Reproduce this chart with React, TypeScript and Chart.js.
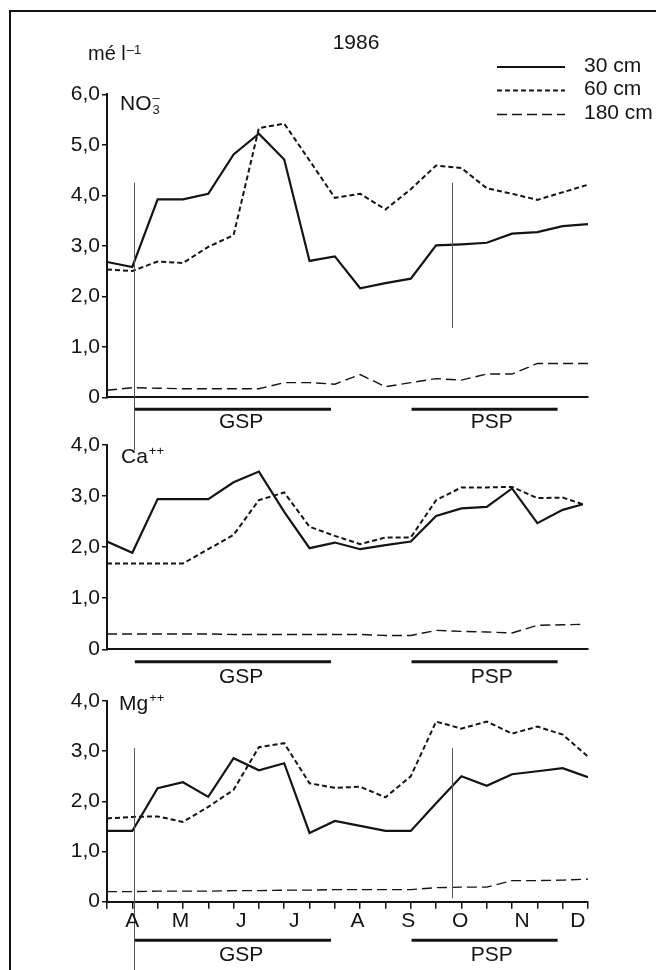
import React, { useEffect, useRef } from 'react';
import { Chart, registerables } from 'chart.js';

Chart.register(...registerables);

// ---------- data ----------
const sampleX = [0, 1, 2, 3, 4, 5, 6, 7, 8, 9, 10, 11, 12, 13, 14, 15, 16, 17, 18, 19];
const caX = [0, 1, 2, 3, 4, 5, 6, 7, 8, 9, 10, 11, 12, 13, 14, 15, 16, 17, 18, 18.8];

const no3_30 = [2.68, 2.58, 3.92, 3.92, 4.03, 4.81, 5.22, 4.71, 2.70, 2.79, 2.16, 2.26, 2.35, 3.01, 3.03, 3.06, 3.24, 3.27, 3.39, 3.43];
const no3_60 = [2.53, 2.50, 2.69, 2.66, 2.98, 3.21, 5.33, 5.42, 4.69, 3.95, 4.03, 3.72, 4.12, 4.59, 4.54, 4.14, 4.03, 3.91, 4.06, 4.21];
const no3_180 = [0.14, 0.19, 0.18, 0.17, 0.17, 0.17, 0.17, 0.29, 0.29, 0.26, 0.45, 0.21, 0.29, 0.37, 0.34, 0.46, 0.46, 0.67, 0.67, 0.67];

const ca_30 = [2.11, 1.89, 2.94, 2.94, 2.94, 3.27, 3.48, 2.69, 1.98, 2.09, 1.96, 2.04, 2.11, 2.61, 2.76, 2.79, 3.15, 2.47, 2.73, 2.84];
const ca_60 = [1.68, 1.68, 1.68, 1.68, 1.96, 2.24, 2.92, 3.07, 2.40, 2.22, 2.06, 2.19, 2.19, 2.92, 3.17, 3.17, 3.18, 2.96, 2.97, 2.84];
const ca_180 = [0.30, 0.30, 0.30, 0.30, 0.30, 0.29, 0.29, 0.29, 0.29, 0.29, 0.29, 0.27, 0.27, 0.37, 0.35, 0.34, 0.32, 0.47, 0.48, 0.49];

const mg_30 = [1.41, 1.41, 2.26, 2.38, 2.09, 2.86, 2.62, 2.76, 1.37, 1.61, 1.51, 1.41, 1.41, 1.96, 2.50, 2.31, 2.54, 2.60, 2.66, 2.48];
const mg_60 = [1.66, 1.69, 1.70, 1.59, 1.89, 2.23, 3.08, 3.16, 2.36, 2.27, 2.29, 2.08, 2.50, 3.59, 3.45, 3.59, 3.35, 3.49, 3.33, 2.89];
const mg_180 = [0.20, 0.20, 0.21, 0.21, 0.21, 0.22, 0.22, 0.23, 0.23, 0.24, 0.24, 0.24, 0.24, 0.28, 0.29, 0.29, 0.42, 0.42, 0.43, 0.45];

const seriesLabels = ['30 cm', '60 cm', '180 cm'];
const monthLabels = ['A', 'M', 'J', 'J', 'A', 'S', 'O', 'N', 'D'];
const monthPos = [1.0, 2.9, 5.3, 7.4, 9.9, 11.9, 13.95, 16.4, 18.6];
const periodNames = ['GSP', 'PSP'];
const periodStart = [1.1, 12.03];
const periodEnd = [8.85, 17.8];
const periodLabelPos = [5.3, 15.2];
const markerX = [1.08, 13.64];
const yearTitle = '1986';

// ---------- styling ----------
const W = 656;
const H = 970;
const INK = '#141414';
const FONT = '"Liberation Sans", Arial, Helvetica, sans-serif';
const styles = [
  { borderWidth: 2.2, borderDash: [] as number[] },
  { borderWidth: 2, borderDash: [5, 3] },
  { borderWidth: 1.4, borderDash: [10, 5] },
];

type Species = { base: string; sub?: string; sup?: string; x: number; y: number };
type Panel = {
  x: number[];
  series: number[][];
  yMax: number;
  top: number;
  bottom: number;
  xTicks: boolean;
  barOffset: number;
  labelOffset: number;
  vlines: { x: number; y0: number; y1: number }[];
  species: Species;
  months: boolean;
  header: boolean;
};

const panels: Panel[] = [
  {
    x: sampleX,
    series: [no3_30, no3_60, no3_180],
    yMax: 6,
    top: 94.3,
    bottom: 397.3,
    xTicks: false,
    barOffset: 12,
    labelOffset: 25,
    vlines: [
      { x: markerX[0], y0: 4.25, y1: -1.05 },
      { x: markerX[1], y0: 4.25, y1: 1.37 },
    ],
    species: { base: 'NO', sub: '3', sup: '\u2013', x: 120, y: 110 },
    months: false,
    header: true,
  },
  {
    x: caX,
    series: [ca_30, ca_60, ca_180],
    yMax: 4,
    top: 445,
    bottom: 649.3,
    xTicks: false,
    barOffset: 12.5,
    labelOffset: 28,
    vlines: [],
    species: { base: 'Ca', sup: '++', x: 121, y: 463 },
    months: false,
    header: false,
  },
  {
    x: sampleX,
    series: [mg_30, mg_60, mg_180],
    yMax: 4,
    top: 701,
    bottom: 901.7,
    xTicks: true,
    barOffset: 38.5,
    labelOffset: 53.5,
    vlines: [
      { x: markerX[0], y0: 3.06, y1: -1.4 },
      { x: markerX[1], y0: 3.06, y1: 0.07 },
    ],
    species: { base: 'Mg', sup: '++', x: 119, y: 710 },
    months: true,
    header: false,
  },
];

function makeDecor(p: Panel) {
  return {
    id: 'decor',
    afterDraw(chart: any) {
      const ctx: CanvasRenderingContext2D = chart.ctx;
      const xs = chart.scales.x;
      const ys = chart.scales.y;
      const area = chart.chartArea;
      ctx.save();

      // thin vertical marker lines
      ctx.strokeStyle = '#555';
      ctx.lineWidth = 1;
      ctx.setLineDash([]);
      for (const v of p.vlines) {
        const px = Math.round(xs.getPixelForValue(v.x)) + 0.5;
        ctx.beginPath();
        ctx.moveTo(px, ys.getPixelForValue(v.y0));
        ctx.lineTo(px, ys.getPixelForValue(v.y1));
        ctx.stroke();
      }

      // GSP / PSP bars
      ctx.strokeStyle = INK;
      ctx.lineWidth = 3;
      for (let i = 0; i < periodNames.length; i++) {
        const y = area.bottom + p.barOffset;
        ctx.beginPath();
        ctx.moveTo(xs.getPixelForValue(periodStart[i]), y);
        ctx.lineTo(xs.getPixelForValue(periodEnd[i]), y);
        ctx.stroke();
      }
      ctx.fillStyle = INK;
      ctx.textAlign = 'center';
      ctx.textBaseline = 'middle';
      ctx.font = `21px ${FONT}`;
      for (let i = 0; i < periodNames.length; i++) {
        ctx.fillText(periodNames[i], xs.getPixelForValue(periodLabelPos[i]), area.bottom + p.labelOffset);
      }

      // month labels
      if (p.months) {
        for (let i = 0; i < monthLabels.length; i++) {
          ctx.fillText(monthLabels[i], xs.getPixelForValue(monthPos[i]), area.bottom + 20);
        }
      }

      // species label (with sub/superscripts)
      ctx.textAlign = 'left';
      ctx.textBaseline = 'alphabetic';
      const sp = p.species;
      ctx.font = `21px ${FONT}`;
      ctx.fillText(sp.base, sp.x, sp.y);
      const bw = ctx.measureText(sp.base).width;
      ctx.font = `13px ${FONT}`;
      if (sp.sub) ctx.fillText(sp.sub, sp.x + bw + 1, sp.y + 4);
      if (sp.sup) ctx.fillText(sp.sup, sp.x + bw + 1, sp.y - 8);

      if (p.header) {
        ctx.font = `21px ${FONT}`;
        ctx.textAlign = 'center';
        ctx.textBaseline = 'middle';
        ctx.fillText(yearTitle, 356, 43.5);
        ctx.textAlign = 'left';
        ctx.textBaseline = 'alphabetic';
        ctx.font = `20px ${FONT}`;
        ctx.fillText('m\u00e9 l', 88, 60);
        const uw = ctx.measureText('m\u00e9 l').width;
        ctx.font = `13px ${FONT}`;
        ctx.fillText('\u20131', 88 + uw + 1, 54);

        // legend
        const rows = [67, 90.5, 114.5];
        chart.data.datasets.forEach((ds: any, i: number) => {
          ctx.strokeStyle = INK;
          ctx.lineWidth = ds.borderWidth;
          ctx.setLineDash(ds.borderDash || []);
          ctx.beginPath();
          ctx.moveTo(497, rows[i]);
          ctx.lineTo(565, rows[i]);
          ctx.stroke();
          ctx.setLineDash([]);
          ctx.font = `21px ${FONT}`;
          ctx.textBaseline = 'middle';
          ctx.fillText(ds.label, 584, rows[i] - 1);
        });
      }
      ctx.restore();
    },
  };
}

function fmt(v: number) {
  return v === 0 ? '0' : v.toFixed(1).replace('.', ',');
}

function PanelChart({ p }: { p: Panel }) {
  const ref = useRef<HTMLCanvasElement>(null);
  useEffect(() => {
    if (!ref.current) return;
    const chart = new Chart(ref.current, {
      type: 'line',
      data: {
        datasets: p.series.map((vals, i) => ({
          label: seriesLabels[i],
          data: vals.map((v, j) => ({ x: p.x[j], y: v })),
          borderColor: INK,
          backgroundColor: INK,
          borderWidth: styles[i].borderWidth,
          borderDash: styles[i].borderDash,
          pointRadius: 0,
          tension: 0,
          fill: false,
          borderJoinStyle: 'miter' as const,
        })),
      },
      options: {
        responsive: false,
        animation: false,
        devicePixelRatio: 1,
        events: [],
        layout: { padding: { left: 0, right: W - 588, top: p.top, bottom: H - p.bottom } },
        plugins: { legend: { display: false }, tooltip: { enabled: false } },
        scales: {
          x: {
            type: 'linear',
            min: 0,
            max: 19,
            afterFit: (s: any) => { s.height = 0; },
            ticks: { display: false, stepSize: 1 },
            grid: { display: p.xTicks, drawOnChartArea: false, drawTicks: true, tickLength: 7, color: INK, lineWidth: 1.5 },
            border: { display: true, color: INK, width: 2 },
          },
          y: {
            type: 'linear',
            min: 0,
            max: p.yMax,
            afterFit: (s: any) => { s.width = 107; },
            ticks: {
              stepSize: 1,
              color: INK,
              padding: 2,
              font: { family: FONT, size: 21 },
              callback: (v: any) => fmt(Number(v)),
            },
            grid: { display: true, drawOnChartArea: false, drawTicks: true, tickLength: 5, color: INK, lineWidth: 1.5 },
            border: { display: true, color: INK, width: 2 },
          },
        },
      },
      plugins: [makeDecor(p)],
    } as any);
    return () => chart.destroy();
  }, [p]);
  return (
    <canvas
      ref={ref}
      width={W}
      height={H}
      style={{ position: 'absolute', left: 0, top: 0, width: W, height: H }}
    />
  );
}

export default function App() {
  return (
    <div style={{ position: 'absolute', left: 0, top: 0, width: W, height: H, background: '#fff', overflow: 'hidden' }}>
      <div
        style={{
          position: 'absolute',
          left: 9,
          top: 10,
          width: W - 9,
          height: H - 10,
          borderTop: `2px solid ${INK}`,
          borderLeft: `2px solid ${INK}`,
          boxSizing: 'border-box',
        }}
      />
      {panels.map((p, i) => (
        <PanelChart key={i} p={p} />
      ))}
    </div>
  );
}
